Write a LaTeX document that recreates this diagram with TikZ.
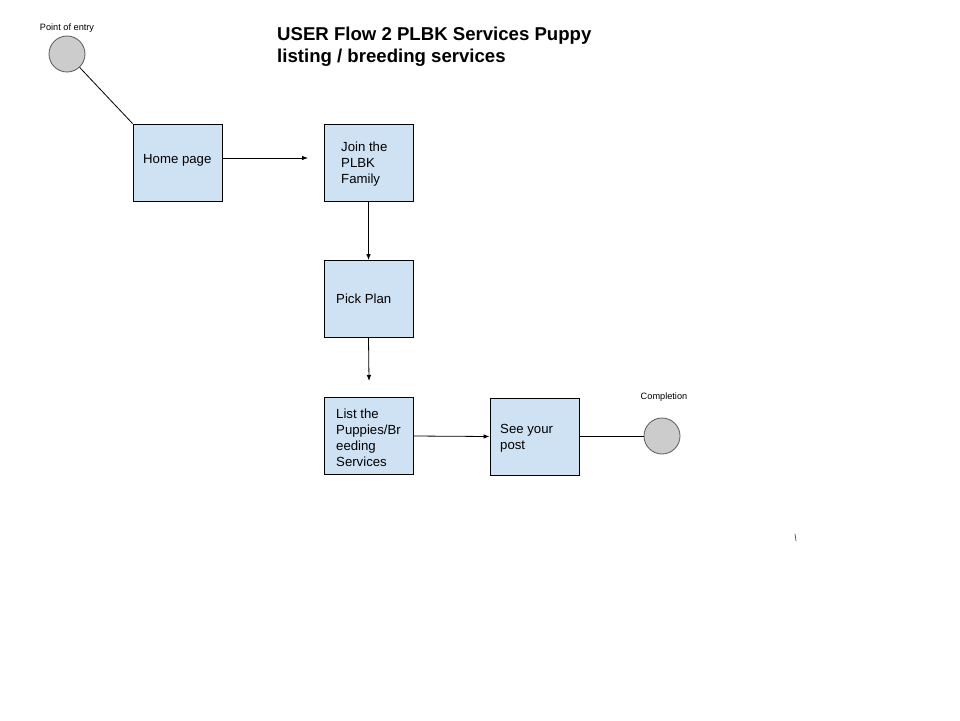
\documentclass[tikz,border=0pt]{standalone}
\usepackage{fontspec}
\setmainfont{Liberation Sans}
\usetikzlibrary{arrows.meta}
\definecolor{boxfill}{HTML}{CFE2F3}
\definecolor{circfill}{HTML}{CCCCCC}
\definecolor{circline}{HTML}{595959}
\begin{document}
\begin{tikzpicture}[x=1pt,y=-1pt,
  flowbox/.style={draw=black,line width=0.8pt,fill=boxfill,minimum width=89pt,minimum height=77pt,inner sep=0pt},
  endpoint/.style={circle,draw=circline,line width=0.8pt,fill=circfill,minimum size=36pt,inner sep=0pt},
  boxtext/.style={anchor=west,align=left,font=\fontsize{13.2}{16}\selectfont,inner sep=0pt},
  smalltext/.style={font=\fontsize{9.2}{11}\selectfont,inner sep=0pt},
  conn/.style={line width=0.8pt},
  arr/.style={conn,-{Latex[length=6pt,width=4.5pt]}}]
\useasboundingbox (0,0) rectangle (960,720);
\fill[white] (0,0) rectangle (960,720);
% title
\node[anchor=north west,align=left,font=\bfseries\fontsize{18.6}{22}\selectfont,inner sep=0pt] (title) at (277,27) {USER Flow 2 PLBK Services Puppy\\listing / breeding services};
% endpoints
\node[endpoint] (entry) at (67,54) {};
\node[smalltext] (entrylbl) at (67,28) {Point of entry};
\node[endpoint] (done) at (662,436) {};
\node[smalltext] (donelbl) at (664,397) {Completion};
% boxes
\node[flowbox] (home) at (177.5,162.5) {};
\node[flowbox] (join) at (368.5,162.5) {};
\node[flowbox] (pick) at (368.5,299) {};
\node[flowbox] (list) at (368.5,436) {};
\node[flowbox] (see) at (534.5,436.5) {};
\node[boxtext] (hometxt) at (143,160) {Home page};
\node[boxtext] (jointxt) at (341,164) {Join the\\PLBK\\Family};
\node[boxtext] (picktxt) at (336,299) {Pick Plan};
\node[boxtext] (listtxt) at (336,438) {List the\\Puppies/Br\\eeding\\Services};
\node[boxtext] (seetxt) at (500,438) {See your\\post};
% connectors
\coordinate (homeend) at (308,158);
\coordinate (pickend) at (369,381);
\draw[conn] (entry) -- (home.north west);
\draw[arr] (home.east |- homeend) -- (homeend);
\draw[arr] (join.south) -- (pick.north);
\draw[arr] (pick.south) -- (pickend);
\draw[arr] (list.east) -- (see.west);
\draw[conn] (see.east |- done.west) -- (done.west);
% stray mark
\coordinate (markA) at (795,534);
\coordinate (markB) at (796,541);
\draw[line width=0.7pt,black!70] (markA) -- (markB);
\end{tikzpicture}
\end{document}
